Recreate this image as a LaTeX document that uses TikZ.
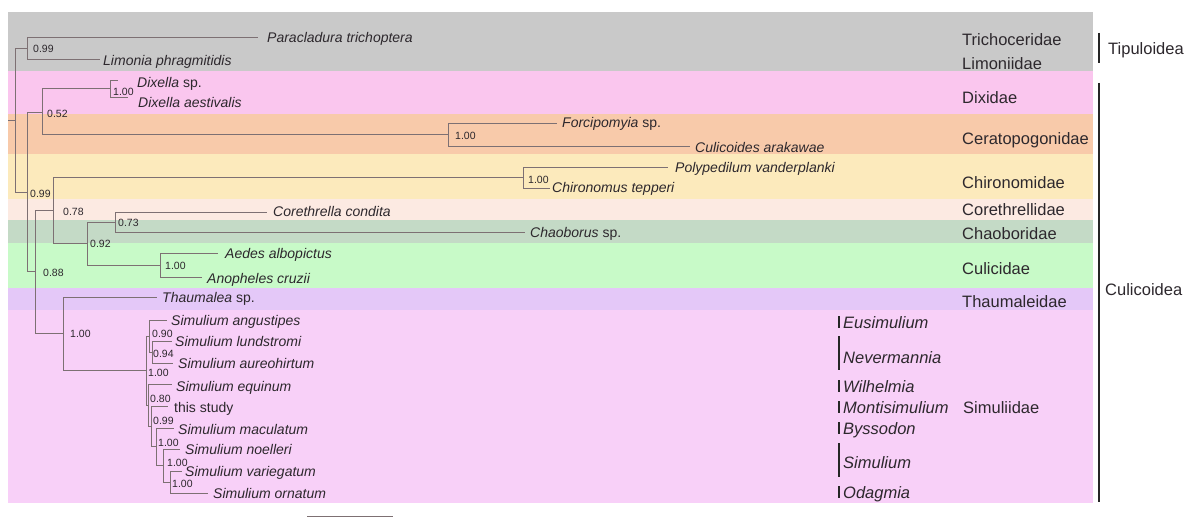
\documentclass[tikz,border=0pt]{standalone}
\usepackage{fontspec}
\setmainfont{Liberation Sans}
\definecolor{cGray}{RGB}{201,201,201}
\definecolor{cDix}{RGB}{250,198,238}
\definecolor{cCer}{RGB}{248,202,170}
\definecolor{cChi}{RGB}{252,234,188}
\definecolor{cCor}{RGB}{252,234,226}
\definecolor{cChao}{RGB}{196,218,198}
\definecolor{cCul}{RGB}{200,250,200}
\definecolor{cTha}{RGB}{228,200,248}
\definecolor{cSim}{RGB}{248,208,248}
\definecolor{treeC}{RGB}{125,112,115}
\definecolor{txtC}{RGB}{45,40,45}
\begin{document}
\begin{tikzpicture}[x=1pt,y=-1pt,
  br/.style={draw=treeC, line width=0.9pt},
  sp/.style={anchor=mid west, inner sep=0pt, yshift=-3pt, font=\fontsize{14}{16}\selectfont\itshape, text=txtC},
  spup/.style={anchor=mid west, inner sep=0pt, yshift=-3pt, font=\fontsize{14}{16}\selectfont, text=txtC},
  sup/.style={anchor=mid west, inner sep=0pt, yshift=-1.5pt, font=\fontsize{10.5}{12}\selectfont, text=txtC},
  fam/.style={anchor=mid west, inner sep=0pt, yshift=-3.5pt, font=\fontsize{16.5}{19}\selectfont, text=txtC},
  gen/.style={anchor=mid west, inner sep=0pt, yshift=-3.5pt, font=\fontsize{16.5}{19}\selectfont\itshape, text=txtC},
  gbar/.style={draw=black!85, line width=2.2pt},
]
\useasboundingbox (0,0) rectangle (1194,524);
\fill[white] (0,0) rectangle (1194,524);
% bands
\fill[cGray] (8,12) rectangle (1093,71);
\fill[cDix] (8,71) rectangle (1093,114);
\fill[cCer] (8,114) rectangle (1093,154);
\fill[cChi] (8,154) rectangle (1093,199);
\fill[cCor] (8,199) rectangle (1093,220);
\fill[cChao] (8,220) rectangle (1093,243);
\fill[cCul] (8,243) rectangle (1093,288);
\fill[cTha] (8,288) rectangle (1093,310);
\fill[cSim] (8,310) rectangle (1093,503);

% internal nodes
\coordinate (stub) at (8,120);
\coordinate (root) at (15,120);
\coordinate (tip) at (27,48);
\coordinate (culi) at (27,192.5);
\coordinate (n52) at (42,112.5);
\coordinate (dix) at (110,88.5);
\coordinate (cer) at (448,134.5);
\coordinate (n88) at (35,271.5);
\coordinate (n78) at (53,210.5);
\coordinate (chi) at (523,177.5);
\coordinate (n92) at (87,243.5);
\coordinate (n73) at (115,222);
\coordinate (cul) at (160,265);
\coordinate (ts) at (63,333.5);
\coordinate (simA) at (146,370.6);
\coordinate (simB) at (149,336);
\coordinate (simB2) at (152,352);
\coordinate (simC) at (148,405.2);
\coordinate (simD) at (151,426.4);
\coordinate (simE) at (156,446.8);
\coordinate (simF) at (163,465.5);
\coordinate (simG) at (170,482);
% tips
\coordinate (paraT) at (258,37);
\coordinate (limT) at (100,59);
\coordinate (dixspT) at (118,80);
\coordinate (dixaeT) at (128,97);
\coordinate (forcT) at (557,123);
\coordinate (culicT) at (690,146);
\coordinate (polyT) at (668,167);
\coordinate (chirT) at (550,188);
\coordinate (coreT) at (267,212);
\coordinate (chaoT) at (525,232);
\coordinate (aedT) at (218,253);
\coordinate (anoT) at (202,277);
\coordinate (thauT) at (157,297);
\coordinate (angT) at (167,320);
\coordinate (lundT) at (172,341);
\coordinate (aurT) at (173,363);
\coordinate (equT) at (172,384);
\coordinate (thisT) at (168,406);
\coordinate (macT) at (174,428);
\coordinate (noeT) at (180,449);
\coordinate (varT) at (182,471);
\coordinate (ornT) at (208,493);

% branches
\draw[br] (stub) -- (root);
\draw[br] (root) |- (tip);
\draw[br] (root) |- (culi);
\draw[br] (tip) |- (paraT);
\draw[br] (tip) |- (limT);
\draw[br] (culi) |- (n52);
\draw[br] (culi) |- (n88);
\draw[br] (n52) |- (dix);
\draw[br] (n52) |- (cer);
\draw[br] (dix) |- (dixspT);
\draw[br] (dix) |- (dixaeT);
\draw[br] (cer) |- (forcT);
\draw[br] (cer) |- (culicT);
\draw[br] (n88) |- (n78);
\draw[br] (n88) |- (ts);
\draw[br] (n78) |- (chi);
\draw[br] (n78) |- (n92);
\draw[br] (chi) |- (polyT);
\draw[br] (chi) |- (chirT);
\draw[br] (n92) |- (n73);
\draw[br] (n92) |- (cul);
\draw[br] (n73) |- (coreT);
\draw[br] (n73) |- (chaoT);
\draw[br] (cul) |- (aedT);
\draw[br] (cul) |- (anoT);
\draw[br] (ts) |- (thauT);
\draw[br] (ts) |- (simA);
\draw[br] (simA) |- (simB);
\draw[br] (simA) |- (simC);
\draw[br] (simB) |- (angT);
\draw[br] (simB) |- (simB2);
\draw[br] (simB2) |- (lundT);
\draw[br] (simB2) |- (aurT);
\draw[br] (simC) |- (equT);
\draw[br] (simC) |- (simD);
\draw[br] (simD) |- (thisT);
\draw[br] (simD) |- (simE);
\draw[br] (simE) |- (macT);
\draw[br] (simE) |- (simF);
\draw[br] (simF) |- (noeT);
\draw[br] (simF) |- (simG);
\draw[br] (simG) |- (varT);
\draw[br] (simG) |- (ornT);

% leaf labels
\node[sp] (Lpara) at (267,37) {Paracladura trichoptera};
\node[sp] (Llim) at (103,60) {Limonia phragmitidis};
\node[sp] (Ldixsp) at (137,82) {Dixella\/ \upshape sp.};
\node[sp] (Ldixae) at (138,102) {Dixella aestivalis};
\node[sp] (Lforc) at (562,122) {Forcipomyia\/ \upshape sp.};
\node[sp] (Lculic) at (695,147) {Culicoides arakawae};
\node[sp] (Lpoly) at (675,167) {Polypedilum vanderplanki};
\node[sp] (Lchir) at (552,187) {Chironomus tepperi};
\node[sp] (Lcore) at (273,211) {Corethrella condita};
\node[sp] (Lchao) at (530,232) {Chaoborus\/ \upshape sp.};
\node[sp] (Laed) at (225,253) {Aedes albopictus};
\node[sp] (Lano) at (207,278) {Anopheles cruzii};
\node[sp] (Lthau) at (162,297) {Thaumalea\/ \upshape sp.};
\node[sp] (Lang) at (171,320) {Simulium angustipes};
\node[sp] (Llund) at (175,341) {Simulium lundstromi};
\node[sp] (Laur) at (178,363) {Simulium aureohirtum};
\node[sp] (Lequ) at (176,386) {Simulium equinum};
\node[spup] (Lthis) at (174,407) {this study};
\node[sp] (Lmac) at (178,429) {Simulium maculatum};
\node[sp] (Lnoe) at (185,449) {Simulium noelleri};
\node[sp] (Lvar) at (185,471) {Simulium variegatum};
\node[sp] (Lorn) at (213,493) {Simulium ornatum};

% support values
\node[sup] (s1) at (33,48) {0.99};
\node[sup] (s2) at (30,193) {0.99};
\node[sup] (s3) at (47,113) {0.52};
\node[sup] (s4) at (113,91) {1.00};
\node[sup] (s5) at (455,135) {1.00};
\node[sup] (s6) at (528,179) {1.00};
\node[sup] (s7) at (63,211) {0.78};
\node[sup] (s8) at (90,243) {0.92};
\node[sup] (s9) at (118,222) {0.73};
\node[sup] (s10) at (165,265) {1.00};
\node[sup] (s11) at (43,272) {0.88};
\node[sup] (s12) at (70,333) {1.00};
\node[sup] (s13) at (148,372) {1.00};
\node[sup] (s14) at (152,333) {0.90};
\node[sup] (s15) at (153,353) {0.94};
\node[sup] (s16) at (150,398) {0.80};
\node[sup] (s17) at (153,420) {0.99};
\node[sup] (s18) at (158,442) {1.00};
\node[sup] (s19) at (167,462) {1.00};
\node[sup] (s20) at (172,483) {1.00};

% family labels
\node[fam] (Ftri) at (962,39) {Trichoceridae};
\node[fam] (Flim) at (962,63) {Limoniidae};
\node[fam] (Fdix) at (962,97) {Dixidae};
\node[fam] (Fcer) at (962,138) {Ceratopogonidae};
\node[fam] (Fchi) at (962,182) {Chironomidae};
\node[fam] (Fcor) at (962,209) {Corethrellidae};
\node[fam] (Fcha) at (962,233) {Chaoboridae};
\node[fam] (Fcul) at (962,268) {Culicidae};
\node[fam] (Ftha) at (962,301) {Thaumaleidae};
\node[fam] (Fsim) at (963,407) {Simuliidae};

% superfamilies
\coordinate (tb1) at (1099,33); \coordinate (tb2) at (1099,63);
\draw[gbar] (tb1) -- (tb2);
\node[fam] (Tip) at (1108,48) {Tipuloidea};
\coordinate (cb1) at (1099,83); \coordinate (cb2) at (1099,502);
\draw[gbar] (cb1) -- (cb2);
\node[fam] (Cul) at (1105,289) {Culicoidea};

% genera
\foreach \nm/\ya/\yb/\yt/\txt in {eus/316/328/322/Eusimulium, nev/336/370/357/Nevermannia, wil/380/392/386/Wilhelmia, mon/401/413/407/Montisimulium, bys/422/434/428/Byssodon, sim/443/477/462/Simulium, oda/486/498/492/Odagmia}{
  \coordinate (g\nm a) at (839,\ya);
  \coordinate (g\nm b) at (839,\yb);
  \draw[gbar] (g\nm a) -- (g\nm b);
  \node[gen] (G\nm) at (843,\yt) {\txt};
}

% scale bar
\coordinate (sb1) at (307,516); \coordinate (sb2) at (393,516);
\draw[draw=treeC, line width=0.9pt] (sb1) -- (sb2);
\end{tikzpicture}
\end{document}
